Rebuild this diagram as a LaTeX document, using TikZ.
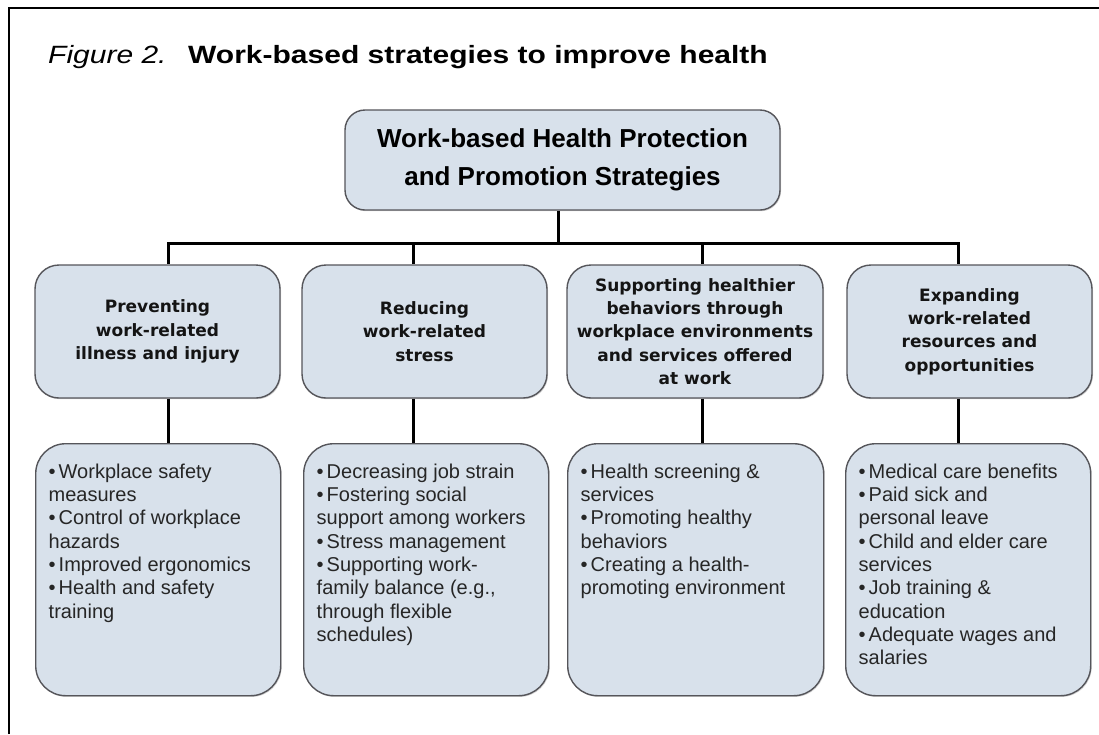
\documentclass[tikz,border=0pt]{standalone}
\usepackage{fontspec}
\usepackage{graphicx}
\setmainfont{Liberation Sans}
\newfontfamily\dvs{DejaVu Sans}
\usetikzlibrary{shadows}
\definecolor{boxfill}{RGB}{216,225,235}
\definecolor{boxline}{RGB}{85,85,90}
\newcommand\mybul{•\hspace{3pt}}
\tikzset{
  conn/.style={line width=3pt, black},
  sbox/.style={draw=boxline, fill=boxfill, line width=1.4pt,
    drop shadow={opacity=0.35, shadow xshift=1pt, shadow yshift=-1.2pt}},
  topbox/.style={sbox, rounded corners=20pt, minimum width=435pt, minimum height=100pt,
    align=center, font=\fontsize{26}{38}\selectfont\bfseries},
  midbox/.style={sbox, rounded corners=24pt, minimum height=133pt, inner sep=2pt,
    align=center, font=\dvs\bfseries\fontsize{17}{23.3}\selectfont, text=black!92},
  lowbox/.style={sbox, rounded corners=30pt, anchor=north west, inner xsep=13pt, inner ysep=20pt,
    font=\fontsize{20}{23.3}\selectfont, text=black!85},
}
\begin{document}
\begin{tikzpicture}[x=1pt,y=-1pt]
\useasboundingbox (0,0) rectangle (1099,734);
% frame
\draw[line width=2pt] (9,734) -- (9,8) -- (1099,8);
% title
\node[anchor=base west, inner sep=0] (figlabel) at (48,63)
  {\scalebox{1.2}[1]{\fontsize{25}{30}\selectfont\itshape Figure 2.}};
\node[anchor=base west, inner sep=0] (figtitle) at (188,63)
  {\scalebox{1.2}[1]{\fontsize{25}{30}\selectfont\bfseries Work-based strategies to improve health}};
% top box
\node[topbox] (top) at (562.5,160) {Work-based Health Protection\\and Promotion Strategies};
% level 2
\node[midbox, minimum width=245pt] (ma) at (157.5,331.5) {Preventing\\work-related\\illness and injury};
\node[midbox, minimum width=245pt] (mb) at (424.5,331.5) {Reducing\\work-related\\stress};
\node[midbox, minimum width=256pt] (mc) at (695,331.5) {Supporting healthier\\behaviors through\\workplace environments\\and services offered\\at work};
\node[midbox, minimum width=245pt] (md) at (969.5,331.5) {Expanding\\work-related\\resources and\\opportunities};
% level 3
\node[lowbox] (la) at (35,443) {\parbox[t][212pt][t]{219pt}{\raggedright
\mybul Workplace safety\\measures\\\mybul Control of workplace\\hazards\\\mybul Improved ergonomics\\\mybul Health and safety\\training}};
\node[lowbox] (lb) at (303,443) {\parbox[t][212pt][t]{219pt}{\raggedright
\mybul Decreasing job strain\\\mybul Fostering social\\support among workers\\\mybul Stress management\\\mybul Supporting work-\\family balance (e.g.,\\through flexible\\schedules)}};
\node[lowbox] (lc) at (567,443) {\parbox[t][212pt][t]{230pt}{\raggedright
\mybul Health screening \&\\services\\\mybul Promoting healthy\\behaviors\\\mybul Creating a health-\\promoting environment}};
\node[lowbox] (ld) at (845,443) {\parbox[t][212pt][t]{219pt}{\raggedright
\mybul Medical care benefits\\\mybul Paid sick and\\personal leave\\\mybul Child and elder care\\services\\\mybul Job training \&\\education\\\mybul Adequate wages and\\salaries}};
% connectors
\coordinate (jt) at (558,243);
\coordinate (ja) at (168,243);
\coordinate (jb) at (413,243);
\coordinate (jc) at (702,243);
\coordinate (jd) at (958,243);
\draw[conn] (jt |- top.south) -- (jt);
\draw[conn, line cap=rect] (ja) -- (jd);
\draw[conn] (ja) -- (ja |- ma.north);
\draw[conn] (jb) -- (jb |- mb.north);
\draw[conn] (jc) -- (jc |- mc.north);
\draw[conn] (jd) -- (jd |- md.north);
\draw[conn] (ja |- ma.south) -- (ja |- la.north);
\draw[conn] (jb |- mb.south) -- (jb |- lb.north);
\draw[conn] (jc |- mc.south) -- (jc |- lc.north);
\draw[conn] (jd |- md.south) -- (jd |- ld.north);
\end{tikzpicture}
\end{document}
